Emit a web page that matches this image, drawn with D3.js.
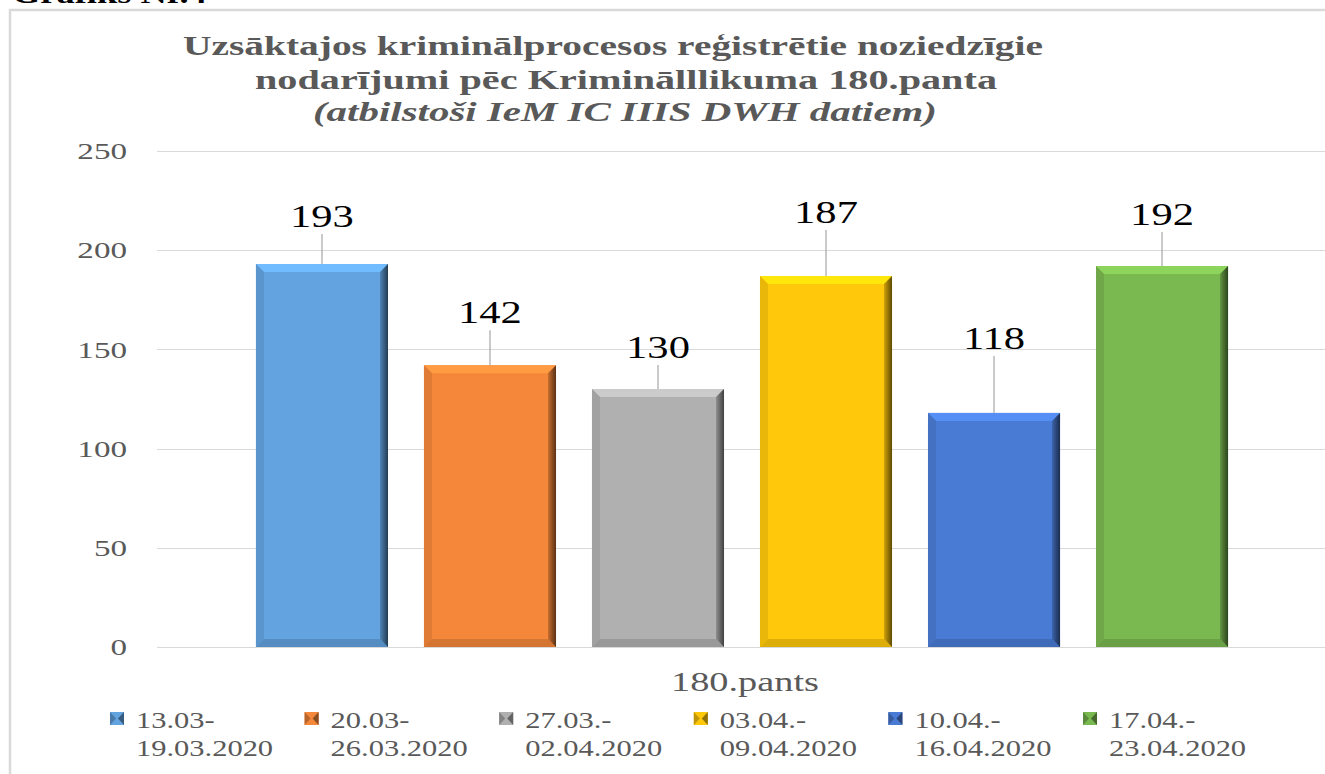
<!DOCTYPE html>
<html>
<head>
  <meta charset="utf-8">
  <title>180.pants</title>
  <style>
    body { margin: 0; background: #fff; }
    text { font-family: "Liberation Serif", "Times New Roman", "DejaVu Serif", serif; }
  </style>
  <script src="https://d3js.org/d3.v7.min.js"></script>
</head>
<body>
  <div id="chart"></div>
  <script>
    // dati
    var periods = ["13.03-|19.03.2020", "20.03-|26.03.2020", "27.03.-|02.04.2020",
                   "03.04.-|09.04.2020", "10.04.-|16.04.2020", "17.04.-|23.04.2020"];
    var values = [193, 142, 130, 187, 118, 192];
    var colors = ["#62a3e0", "#f5873a", "#b0b0b0", "#ffc80a", "#4a7bd4", "#7ab850"];
    var yTicks = [0, 50, 100, 150, 200, 250];
    var category = "180.pants";
    var titleLines = ["Uzsāktajos kriminālprocesos reģistrētie noziedzīgie",
                      "nodarījumi pēc Kriminālllikuma 180.panta",
                      "(atbilstoši IeM IC IIIS DWH datiem)"];
    // etiķešu pacēlums virs stabiņa (izkārtojums)
    var labelLift = [48, 53, 42, 64, 75, 52];

    var W = 1325, H = 774;
    var SX = 1.3; // teksts attēlā ir izstiepts horizontāli
    var FONT = "Liberation Serif, Times New Roman, DejaVu Serif, serif";

    var svg = d3.select("#chart").append("svg")
        .attr("width", W)
        .attr("height", H);

    var defs = svg.append("defs");

    // rāmis
    svg.append("rect")
      .attr("x", 10).attr("y", 10)
      .attr("width", W + 20).attr("height", H + 20)
      .attr("fill", "none")
      .attr("stroke", "#d9d9d9")
      .attr("stroke-width", 2.5);

    // izstiepts teksts
    function stext(g, x, y, str, size, opts) {
      opts = opts || {};
      var t = g.append("text")
        .attr("transform", "translate(" + x + "," + y + ") scale(" + (opts.sx || SX) + ",1)")
        .attr("font-family", FONT)
        .attr("font-size", size)
        .attr("fill", opts.fill || "#595959")
        .attr("text-anchor", opts.anchor || "start")
        .text(str);
      if (opts.bold) t.attr("font-weight", "bold");
      if (opts.italic) t.attr("font-style", "italic");
      return t;
    }

    stext(svg, 12, 3, "Grafiks Nr.4", 28, {bold: true, fill: "#000"});

    // virsraksts (platums kā attēlā)
    var titleBox = [[183, 55, 860], [255, 89, 742], [313, 121, 624]];
    titleLines.forEach(function(s, i) {
      svg.append("text")
        .attr("x", titleBox[i][0]).attr("y", titleBox[i][1])
        .attr("font-family", FONT)
        .attr("font-size", 28)
        .attr("font-weight", "bold")
        .attr("font-style", i === 2 ? "italic" : "normal")
        .attr("fill", "#595959")
        .attr("textLength", titleBox[i][2])
        .attr("lengthAdjust", "spacingAndGlyphs")
        .text(s);
    });

    // skalas
    var y = d3.scaleLinear().domain([0, 250]).range([647, 151]);
    var x = d3.scaleBand()
      .domain(periods)
      .range([157, 1327])
      .paddingInner(0.214)
      .paddingOuter(0.589);

    // režģis
    var grid = svg.append("g");
    grid.selectAll("line").data(yTicks).join("line")
      .attr("x1", 157).attr("x2", W)
      .attr("y1", function(d) { return Math.round(y(d)) + 0.5; })
      .attr("y2", function(d) { return Math.round(y(d)) + 0.5; })
      .attr("stroke", "#d9d9d9")
      .attr("stroke-width", 1);

    // y ass
    var yAxis = svg.append("g")
      .attr("transform", "translate(127,0)")
      .call(d3.axisLeft(y).tickValues(yTicks).tickSize(0).tickPadding(0));
    yAxis.select(".domain").remove();
    yAxis.selectAll("text")
      .attr("font-family", FONT)
      .attr("font-size", 24)
      .attr("fill", "#595959")
      .attr("dy", "0.32em")
      .attr("transform", "scale(" + (SX + 0.08) + ",1)")
      .attr("x", 0);

    // stabiņi ar slīpumu
    var bev = 8;
    var bars = svg.append("g").selectAll("g").data(periods).join("g");

    bars.each(function(p, i) {
      var g = d3.select(this);
      var x0 = x(p), w = x.bandwidth();
      var y0 = y(values[i]), y1 = y(0);
      var c = d3.color(colors[i]);
      var id = "rg" + i;
      var lg = defs.append("linearGradient").attr("id", id)
        .attr("x1", 0).attr("x2", 1).attr("y1", 0).attr("y2", 0);
      lg.append("stop").attr("offset", 0).attr("stop-color", c.darker(0.6));
      lg.append("stop").attr("offset", 1).attr("stop-color", c.darker(2.8));

      g.append("rect")
        .attr("x", x0).attr("y", y0)
        .attr("width", w).attr("height", y1 - y0)
        .attr("fill", c);
      // augša
      g.append("polygon")
        .attr("points", [[x0, y0], [x0 + w, y0], [x0 + w - bev, y0 + bev], [x0 + bev, y0 + bev]].join(" "))
        .attr("fill", c.brighter(0.4));
      // kreisā mala
      g.append("polygon")
        .attr("points", [[x0, y0], [x0 + bev, y0 + bev], [x0 + bev, y1 - bev], [x0, y1]].join(" "))
        .attr("fill", c.darker(0.25));
      // apakša
      g.append("polygon")
        .attr("points", [[x0, y1], [x0 + bev, y1 - bev], [x0 + w - bev, y1 - bev], [x0 + w, y1]].join(" "))
        .attr("fill", c.darker(0.4));
      // labā mala
      g.append("polygon")
        .attr("points", [[x0 + w, y0], [x0 + w - bev, y0 + bev], [x0 + w - bev, y1 - bev], [x0 + w, y1]].join(" "))
        .attr("fill", "url(#" + id + ")");

      // vērtības etiķete ar līniju
      var cx = x0 + w / 2;
      var ly = y0 - labelLift[i];
      g.append("line")
        .attr("x1", cx).attr("x2", cx)
        .attr("y1", ly + 18).attr("y2", y0)
        .attr("stroke", "#a6a6a6").attr("stroke-width", 1.2);
      stext(g, cx, ly + 11, values[i], 32, {anchor: "middle", fill: "#000", sx: 1.33});
    });

    // x ass nosaukums
    stext(svg, 745, 691, category, 27, {anchor: "middle", sx: 1.42});

    // leģenda
    var leg = svg.append("g").selectAll("g").data(periods).join("g")
      .attr("transform", function(d, i) { return "translate(" + (110 + i * 194.6) + ",0)"; });

    leg.each(function(p, i) {
      var g = d3.select(this);
      var c = d3.color(colors[i]);
      g.append("rect").attr("x", 0).attr("y", 712).attr("width", 14).attr("height", 13)
        .attr("fill", c);
      g.append("polygon").attr("points", "0,712 6,718.5 0,725").attr("fill", c.darker(0.8));
      g.append("polygon").attr("points", "14,712 8,718.5 14,725").attr("fill", c.darker(1.6));
      var parts = p.split("|");
      stext(g, 26, 728, parts[0], 24, {sx: 1.27});
      stext(g, 26, 756, parts[1], 24, {sx: 1.27});
    });
  </script>
</body>
</html>
